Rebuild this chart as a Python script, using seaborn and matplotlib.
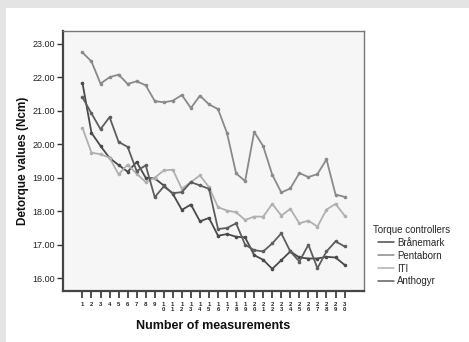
import numpy as np
import pandas as pd
import matplotlib
matplotlib.use("Agg")
import matplotlib.pyplot as plt
from matplotlib.patches import Rectangle
import seaborn as sns

measurements = list(range(1, 31))
tick_labels = [str(i) if i < 10 else f"{str(i)[0]}\n{str(i)[1]}" for i in measurements]

branemark = [21.83, 20.34, 19.95, 19.59, 19.38, 19.18, 19.47, 19.00, 18.98, 18.77,
             18.52, 18.04, 18.20, 17.70, 17.80, 17.27, 17.32, 17.24, 17.22, 16.69,
             16.55, 16.28, 16.54, 16.80, 16.62, 16.59, 16.59, 16.64, 16.62, 16.40]
pentaborn = [22.74, 22.47, 21.81, 22.00, 22.08, 21.80, 21.88, 21.76, 21.29, 21.25,
             21.30, 21.47, 21.08, 21.45, 21.19, 21.05, 20.33, 19.13, 18.90, 20.37,
             19.94, 19.09, 18.56, 18.68, 19.14, 19.02, 19.11, 19.55, 18.50, 18.43]
iti = [20.49, 19.75, 19.70, 19.60, 19.10, 19.39, 19.12, 18.87, 19.00, 19.22,
       19.24, 18.67, 18.87, 19.07, 18.72, 18.12, 18.02, 17.97, 17.74, 17.84,
       17.84, 18.22, 17.87, 18.07, 17.64, 17.72, 17.54, 18.05, 18.22, 17.87]
anthogyr = [21.40, 20.92, 20.45, 20.81, 20.07, 19.92, 19.20, 19.37, 18.42, 18.74,
            18.54, 18.57, 18.87, 18.77, 18.67, 17.47, 17.50, 17.64, 17.00, 16.84,
            16.80, 17.04, 17.34, 16.80, 16.50, 17.00, 16.30, 16.80, 17.10, 16.95]
series_names = ["Brånemark", "Pentaborn", "ITI", "Anthogyr"]
y_ticks = [16, 17, 18, 19, 20, 21, 22, 23]

df = pd.DataFrame({
    "Measurement": measurements * 4,
    "Value": branemark + pentaborn + iti + anthogyr,
    "Controller": sum([[n] * 30 for n in series_names], []),
})

sns.set_theme(style="white")
plt.rcParams["font.family"] = ["Liberation Sans", "DejaVu Sans"]

fig = plt.figure(figsize=(4.69, 3.42), dpi=100)
fig.patch.set_facecolor("#e4e4e4")
fig.patches.append(Rectangle((6 / 469, 0), 1, (342 - 8) / 342, transform=fig.transFigure,
                             facecolor="white", edgecolor="none", zorder=-1))

ax = fig.add_axes([63 / 469, (342 - 291) / 342, 301 / 469, 260 / 342])
ax.set_facecolor("#f6f6f6")

palette = {"Brånemark": "#4a4a4a", "Pentaborn": "#8a8a8a", "ITI": "#b0b0b0", "Anthogyr": "#5e5e5e"}
sns.lineplot(data=df, x="Measurement", y="Value", hue="Controller", palette=palette,
             marker="o", markersize=2.6, markeredgewidth=0, linewidth=1.3, ax=ax,
             hue_order=series_names)

ax.set_xlim(-1.15, 32.15)
ax.set_ylim(15.62, 23.38)
ax.set_yticks(y_ticks)
ax.set_yticklabels([f"{v:.2f}" for v in y_ticks], fontsize=6.5, color="#222222")
ax.set_xticks(measurements)
ax.set_xticklabels(tick_labels, fontsize=4.3, color="#222222", linespacing=0.95, fontweight="bold")
ax.tick_params(axis="y", which="major", direction="out", length=4, width=1.0, color="#333333", pad=2, left=True)
ax.tick_params(axis="x", which="major", direction="out", length=5, width=1.2, color="#333333", pad=3, bottom=True)

for side in ["left", "bottom"]:
    ax.spines[side].set_color("#444444")
    ax.spines[side].set_linewidth(1.6)
for side in ["top", "right"]:
    ax.spines[side].set_color("#777777")
    ax.spines[side].set_linewidth(1.0)

ax.set_xlabel("Number of measurements", fontsize=9, fontweight="bold", color="#111111", labelpad=6)
ax.set_ylabel("Detorque values (Ncm)", fontsize=8.5, fontweight="bold", color="#111111", labelpad=2)

handles, labels = ax.get_legend_handles_labels()
leg = ax.legend(handles, labels, title="Torque controllers", loc="upper left",
                bbox_to_anchor=(366 / 469, (342 - 218) / 342), bbox_transform=fig.transFigure,
                frameon=False, fontsize=7, title_fontsize=7, handlelength=1.6,
                handletextpad=0.4, labelspacing=0.3, borderpad=0.2)
for line in leg.get_lines():
    line.set_marker("")
    line.set_linewidth(1.1)

fig.savefig("out.png", dpi=100, facecolor=fig.get_facecolor())
